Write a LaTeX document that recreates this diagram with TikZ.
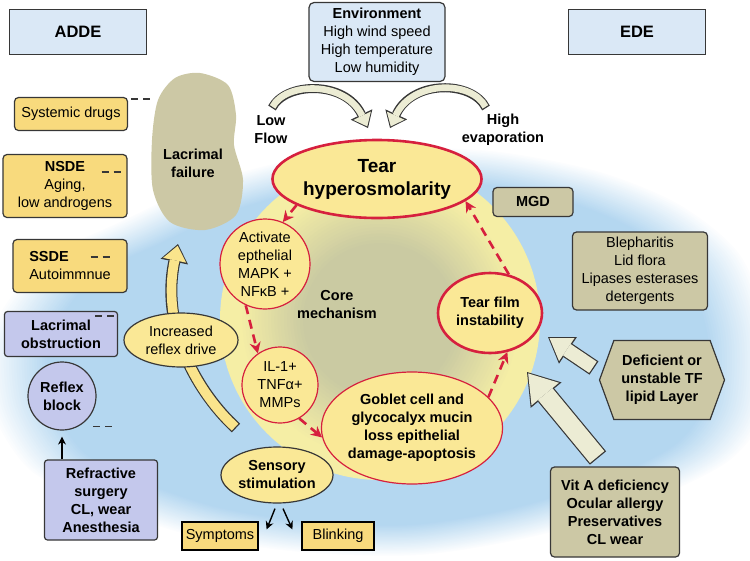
\documentclass[tikz,border=0pt]{standalone}
\usepackage{fontspec}
\setmainfont{Liberation Sans}
\usetikzlibrary{shapes.geometric,shapes.symbols,arrows.meta,calc}

\definecolor{boxblue}{RGB}{218,232,246}
\definecolor{linegray}{RGB}{55,55,55}
\definecolor{boxyellow}{RGB}{248,218,125}
\definecolor{ovalyellow}{RGB}{250,232,150}
\definecolor{khaki}{RGB}{204,200,165}
\definecolor{lavender}{RGB}{196,200,236}
\definecolor{tearred}{RGB}{214,32,62}
\definecolor{bgblue}{RGB}{180,215,240}
\definecolor{coregray}{RGB}{202,202,162}
\definecolor{coreyellow}{RGB}{245,238,165}
\definecolor{arrowcream}{RGB}{236,236,212}
\definecolor{arrowyellow}{RGB}{250,228,140}

\tikzset{
  txt/.style={align=center, inner sep=0pt, font=\fontsize{14.5}{18}\selectfont},
  txtb/.style={align=center, inner sep=0pt, font=\fontsize{14.5}{18}\selectfont\bfseries},
  bigb/.style={align=center, inner sep=0pt, font=\fontsize{16.5}{20}\selectfont\bfseries},
  boxline/.style={draw=linegray, line width=1.2pt},
  bluebox/.style={boxline, fill=boxblue},
  yelbox/.style={boxline, fill=boxyellow, rounded corners=4pt},
  plainyel/.style={draw=black, line width=1.2pt, fill=boxyellow},
  khakibox/.style={boxline, fill=khaki, rounded corners=4pt},
  lavbox/.style={boxline, fill=lavender, rounded corners=3pt},
  hexbox/.style={boxline, fill=khaki, signal, signal to=west and east, signal pointer angle=140},
  redoval/.style={ellipse, draw=tearred, line width=1.2pt, fill=ovalyellow},
  bigredoval/.style={ellipse, draw=tearred, line width=2.6pt, fill=ovalyellow},
  redcirc/.style={circle, draw=tearred, line width=1.2pt, fill=ovalyellow},
  darkoval/.style={ellipse, boxline, fill=ovalyellow},
  redflow/.style={draw=tearred, line width=2.6pt, dash pattern=on 9pt off 6pt, -{Stealth[length=11pt,width=11pt]}},
  blackflow/.style={draw=black, line width=1.4pt, -{Stealth[length=8pt,width=8pt]}},
  linkdash/.style={draw=linegray, line width=1.3pt, dash pattern=on 7pt off 5pt},
  fatout/.style n args={3}{draw=linegray, line width=#1, -{Triangle[length=#2,width=#3,line width=0pt]}},
  fatin/.style n args={4}{draw=#1, line width=#2, shorten <=1.3pt, shorten >=1.8pt, -{Triangle[length=#3,width=#4,line width=0pt]}},
}

\begin{document}
\begin{tikzpicture}[x=1pt,y=-1pt]
  \useasboundingbox (0,0) rectangle (750,560);
  \foreach \k in {0,...,24} {
    \pgfmathsetmacro\f{1-0.0065*\k}
    \pgfmathsetmacro\c{4*(\k+1)}
    \fill[bgblue!\c, scale around={\f:(380,360)}] plot[smooth cycle] coordinates {(120,222) (200,185) (300,158) (400,148) (500,152) (600,172) (680,205) (740,255) (768,330) (765,410) (730,460) (650,500) (540,535) (420,555) (300,552) (190,535) (100,505) (30,470) (-8,410) (-12,340) (20,285) (60,250)};
  }
  \fill[coreyellow] (380,320) circle [radius=160];
  \foreach \k in {0,...,19} {
    \pgfmathsetmacro\f{0.86-0.02*\k}
    \pgfmathsetmacro\c{5*(\k+1)}
    \fill[coregray!\c!coreyellow] (380,320) circle [radius=160*\f];
  }
  \filldraw[fill=khaki, draw=none] plot[smooth cycle] coordinates {(200,73) (228,85) (236,115) (234,145) (243,180) (236,215) (205,230) (170,222) (153,190) (152,140) (158,100) (175,78)};

  \coordinate (lowtail) at (272,108);
  \coordinate (lowtip) at (368,128);
  \coordinate (evaptail) at (486,108);
  \coordinate (evaptip) at (390,128);
  \coordinate (reftail) at (236,428);
  \coordinate (lacbot) at (178,244);
  \coordinate (deftail) at (594,368);
  \coordinate (deftip) at (548,337);
  \coordinate (vittail) at (598,458);
  \coordinate (vittip) at (527,372);

  \draw[fatout={9pt}{15pt}{24pt}] (lowtail) .. controls (285,82) and (345,80) .. (lowtip);
  \draw[fatin={arrowcream}{6.6pt}{11.8pt}{19.5pt}] (lowtail) .. controls (285,82) and (345,80) .. (lowtip);
  \draw[fatout={9pt}{15pt}{24pt}] (evaptail) .. controls (472,80) and (412,80) .. (evaptip);
  \draw[fatin={arrowcream}{6.6pt}{11.8pt}{19.5pt}] (evaptail) .. controls (472,80) and (412,80) .. (evaptip);
  \draw[fatout={12pt}{18pt}{28pt}] (reftail) .. controls (200,395) and (160,330) .. (lacbot);
  \draw[fatin={arrowyellow}{9.6pt}{14.8pt}{23.5pt}] (reftail) .. controls (200,395) and (160,330) .. (lacbot);
  \draw[fatout={16pt}{24pt}{32pt}] (deftail) -- (deftip);
  \draw[fatin={arrowcream}{13.6pt}{20.8pt}{27.5pt}] (deftail) -- (deftip);
  \draw[fatout={21pt}{30pt}{40pt}] (vittail) -- (vittip);
  \draw[fatin={arrowcream}{18.6pt}{26.8pt}{35.5pt}] (vittail) -- (vittip);

  \node[bluebox, bigb, minimum width=137pt, minimum height=45pt] (adde) at (78,32) {ADDE};
  \node[bluebox, bigb, minimum width=137pt, minimum height=45pt] (ede) at (637,32) {EDE};
  \node[bluebox, txt, rounded corners=5pt, minimum width=136pt, minimum height=79pt] (env) at (377,42) {{\bfseries Environment}\\High wind speed\\High temperature\\Low humidity};
  \node[txtb] (lowflow) at (271,130) {Low\\Flow};
  \node[txtb] (highevap) at (503,130) {High\\evaporation};
  \node[txtb] (lacfail) at (193,163) {Lacrimal\\failure};
  \node[txtb] (core) at (337,305) {Core\\mechanism};

  \node[bigredoval, align=center, inner sep=0pt, font=\fontsize{19}{23}\selectfont\bfseries, minimum width=160pt, minimum height=78pt] (hyper) at (377,179) {Tear\\hyperosmolarity};
  \node[redcirc, txt, minimum size=90pt] (activ) at (265,264) {Activate\\epthelial\\MAPK +\\NFκB +};
  \node[redcirc, txt, minimum size=76pt] (il) at (280,385) {IL-1+\\TNFα+\\MMPs};
  \node[redoval, txtb, minimum width=172pt, minimum height=112pt] (goblet) at (412,428) {Goblet cell and\\glycocalyx mucin\\loss epithelial\\damage-apoptosis};
  \node[bigredoval, txtb, minimum width=104pt, minimum height=80pt] (tfi) at (490,313) {Tear film\\instability};

  \node[yelbox, txt, minimum width=113pt, minimum height=33pt] (sysdrug) at (71,114) {Systemic drugs};
  \node[yelbox, txt, minimum width=124pt, minimum height=63pt] (nsde) at (65,186) {{\bfseries NSDE}\\Aging,\\low androgens};
  \node[yelbox, txt, align=left, minimum width=114pt, minimum height=53pt] (ssde) at (70,266) {{\bfseries SSDE}\\Autoimmnue};
  \node[lavbox, txtb, minimum width=113pt, minimum height=45pt] (lacobs) at (61,334) {Lacrimal\\obstruction};
  \node[circle, boxline, fill=lavender, txtb, minimum size=68pt] (reflex) at (62,396) {Reflex\\block};
  \node[lavbox, txtb, minimum width=113pt, minimum height=80pt] (refr) at (101,500) {Refractive\\surgery\\CL, wear\\Anesthesia};
  \node[darkoval, txt, minimum width=114pt, minimum height=54pt] (incr) at (181,340) {Increased\\reflex drive};
  \node[darkoval, txtb, minimum width=112pt, minimum height=56pt] (sens) at (277,475) {Sensory\\stimulation};
  \node[plainyel, txt, minimum width=76pt, minimum height=28pt] (symp) at (220,536) {Symptoms};
  \node[plainyel, txt, minimum width=72pt, minimum height=28pt] (blink) at (338,536) {Blinking};

  \node[khakibox, txtb, minimum width=80pt, minimum height=29pt] (mgd) at (533,202) {MGD};
  \node[khakibox, txt, minimum width=135pt, minimum height=78pt] (bleph) at (640,271) {Blepharitis\\Lid flora\\Lipases esterases\\detergents};
  \node[hexbox, txtb, minimum width=125pt, minimum height=79pt] (defic) at (662,380) {Deficient or\\unstable TF\\lipid Layer};
  \node[khakibox, txtb, minimum width=129pt, minimum height=90pt] (vita) at (615,512) {Vit A deficiency\\Ocular allergy\\Preservatives\\CL wear};

  \draw[redflow] (hyper.198) -- (activ.67);
  \draw[redflow] (activ.245) -- (il.125);
  \draw[redflow] (il.300) -- (goblet.186);
  \draw[redflow] (goblet.22) -- (tfi.294);
  \draw[redflow] (tfi.64) -- (hyper.346);

  \draw[blackflow, shorten >=6pt] (refr.north -| reflex.south) -- (reflex.south);
  \draw[blackflow] ($(sens.south)+(-2,5)$) -- ($(symp.north east)+(8,8)$);
  \draw[blackflow] ($(sens.south)+(6,5)$) -- ($(blink.north west)+(-9,8)$);

  \draw[linkdash] ($(sysdrug.north east)+(3,2)$) -- ++(22,0);
  \draw[linkdash] ($(nsde.north east)+(-26,18)$) -- ++(21,0);
  \draw[linkdash] ($(ssde.north east)+(-37,18)$) -- ++(20,0);
  \draw[linkdash] ($(lacobs.north east)+(-23,5)$) -- ++(20,0);
  \draw[linkdash] ($(reflex.south east)+(7,6)$) -- ++(19,0);
\end{tikzpicture}
\end{document}
